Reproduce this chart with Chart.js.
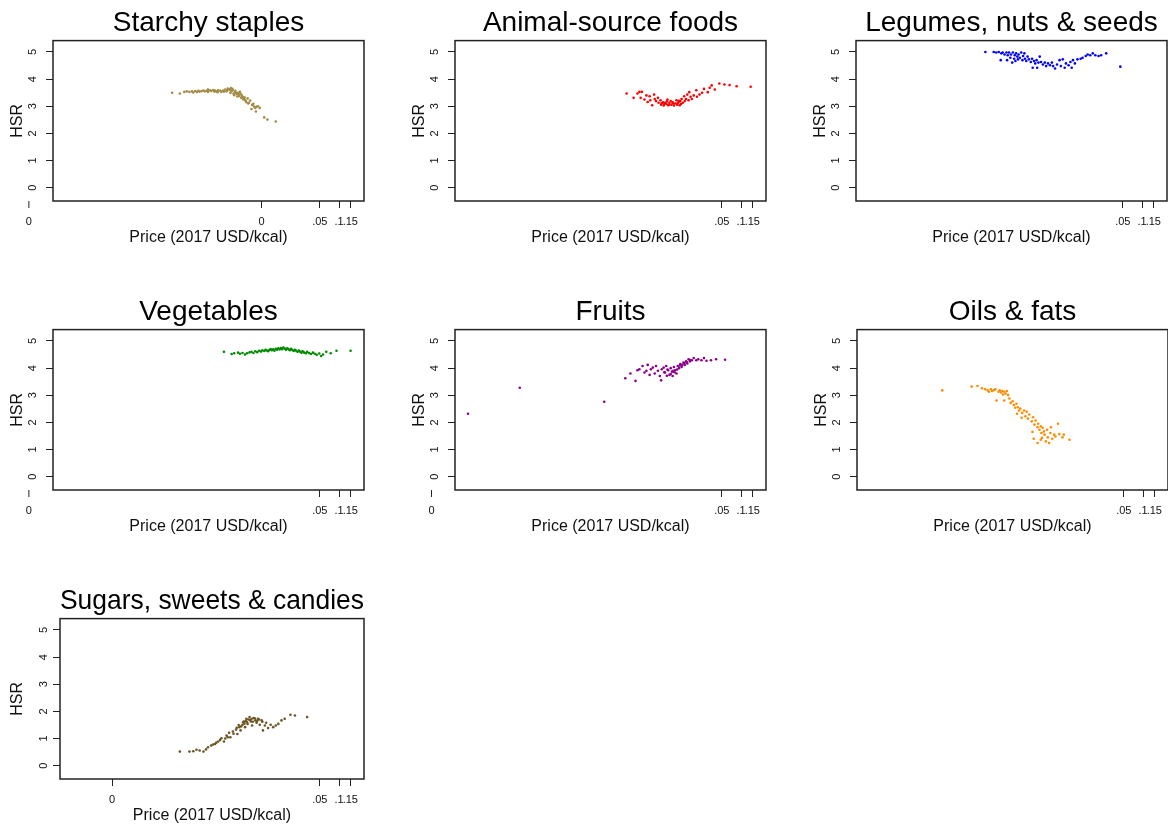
<!DOCTYPE html>
<html>
<head>
<meta charset="utf-8">
<script src="https://cdn.jsdelivr.net/npm/chart.js@4.4.1/dist/chart.umd.min.js"></script>
<style>
  html, body { margin: 0; padding: 0; background: #fff; overflow: hidden; }
  #wrap { position: relative; width: 1168px; height: 827px; overflow: hidden; }
  #wrap canvas { position: absolute; }
</style>
</head>
<body>
<div id="wrap"></div>
<script>
// x = log10 of price (2017 USD/kcal), y = HSR
const starchy = [[-3.61,3.50],[-3.49,3.47],[-3.42,3.53],[-3.38,3.55],[-3.34,3.53],[-3.30,3.55],[-3.28,3.51],[-3.25,3.56],[-3.22,3.53],[-3.20,3.57],[-3.18,3.54],[-3.15,3.56],[-3.12,3.58],[-3.10,3.55],[-3.07,3.57],[-3.05,3.62],[-3.05,3.53],[-3.02,3.59],[-3.00,3.56],[-2.97,3.60],[-2.95,3.54],[-2.94,3.58],[-2.92,3.55],[-2.90,3.52],[-2.89,3.59],[-2.86,3.57],[-2.84,3.53],[-2.81,3.58],[-2.80,3.54],[-2.78,3.62],[-2.76,3.55],[-2.75,3.58],[-2.74,3.65],[-2.72,3.63],[-2.71,3.60],[-2.70,3.49],[-2.69,3.67],[-2.68,3.55],[-2.67,3.64],[-2.66,3.61],[-2.65,3.46],[-2.64,3.41],[-2.63,3.52],[-2.62,3.57],[-2.61,3.49],[-2.60,3.45],[-2.59,3.36],[-2.58,3.50],[-2.57,3.43],[-2.56,3.38],[-2.55,3.53],[-2.54,3.46],[-2.53,3.31],[-2.52,3.40],[-2.51,3.35],[-2.50,3.25],[-2.49,3.28],[-2.48,3.33],[-2.47,3.24],[-2.46,3.19],[-2.45,3.15],[-2.43,3.29],[-2.42,3.10],[-2.41,3.13],[-2.39,3.21],[-2.37,2.90],[-2.36,3.05],[-2.34,3.09],[-2.33,2.99],[-2.31,2.94],[-2.30,2.81],[-2.29,2.98],[-2.27,3.00],[-2.24,2.94],[-2.17,2.59],[-2.12,2.51],[-1.99,2.44]];
const animal = [[-2.79,3.47],[-2.68,3.31],[-2.62,3.47],[-2.59,3.53],[-2.55,3.53],[-2.57,3.31],[-2.51,3.25],[-2.48,3.40],[-2.46,3.16],[-2.43,3.37],[-2.42,3.22],[-2.39,3.04],[-2.36,3.43],[-2.35,3.27],[-2.33,3.19],[-2.30,3.31],[-2.29,3.13],[-2.26,3.22],[-2.25,3.06],[-2.24,3.12],[-2.22,3.15],[-2.21,3.03],[-2.20,3.08],[-2.19,3.13],[-2.17,3.09],[-2.16,3.18],[-2.15,3.25],[-2.14,3.04],[-2.13,3.05],[-2.12,3.13],[-2.10,3.19],[-2.09,3.06],[-2.07,3.15],[-2.06,3.10],[-2.05,3.03],[-2.03,3.10],[-2.01,3.22],[-2.00,3.06],[-1.99,3.12],[-1.98,3.15],[-1.97,3.20],[-1.96,3.04],[-1.95,3.19],[-1.94,3.08],[-1.93,3.27],[-1.91,3.13],[-1.89,3.37],[-1.88,3.19],[-1.86,3.27],[-1.84,3.43],[-1.82,3.22],[-1.81,3.52],[-1.79,3.35],[-1.77,3.27],[-1.74,3.40],[-1.70,3.59],[-1.69,3.35],[-1.65,3.43],[-1.61,3.50],[-1.58,3.64],[-1.52,3.52],[-1.49,3.68],[-1.46,3.77],[-1.41,3.62],[-1.34,3.84],[-1.26,3.80],[-1.18,3.78],[-1.07,3.74],[-0.85,3.72]];
const legumes = [[-3.45,5.00],[-3.32,5.00],[-3.28,4.98],[-3.24,5.00],[-3.21,4.70],[-3.20,4.95],[-3.18,4.98],[-3.15,4.91],[-3.12,4.98],[-3.11,4.70],[-3.10,4.88],[-3.08,4.98],[-3.06,4.79],[-3.05,4.91],[-3.03,4.61],[-3.02,4.98],[-3.00,4.75],[-2.99,4.88],[-2.98,4.67],[-2.97,4.95],[-2.95,4.83],[-2.94,4.73],[-2.93,4.91],[-2.91,4.79],[-2.89,4.98],[-2.87,4.70],[-2.86,4.85],[-2.84,4.95],[-2.83,4.75],[-2.81,4.67],[-2.79,4.83],[-2.77,4.73],[-2.74,4.63],[-2.72,4.75],[-2.71,4.42],[-2.69,4.67],[-2.67,4.58],[-2.65,4.70],[-2.64,4.42],[-2.62,4.61],[-2.60,4.83],[-2.58,4.63],[-2.55,4.54],[-2.52,4.61],[-2.50,4.48],[-2.47,4.58],[-2.44,4.51],[-2.41,4.61],[-2.39,4.48],[-2.36,4.39],[-2.33,4.54],[-2.29,4.70],[-2.27,4.48],[-2.24,4.73],[-2.21,4.42],[-2.19,4.58],[-2.15,4.51],[-2.12,4.63],[-2.10,4.42],[-2.08,4.70],[-2.05,4.58],[-2.01,4.73],[-1.96,4.75],[-1.93,4.79],[-1.88,4.85],[-1.85,4.91],[-1.81,4.88],[-1.77,4.95],[-1.73,4.88],[-1.68,4.85],[-1.64,4.88],[-1.56,4.95],[-1.34,4.46]];
const vegetables = [[-2.80,4.60],[-2.68,4.52],[-2.64,4.55],[-2.58,4.57],[-2.55,4.53],[-2.51,4.56],[-2.47,4.50],[-2.44,4.55],[-2.40,4.58],[-2.37,4.60],[-2.34,4.56],[-2.31,4.62],[-2.28,4.59],[-2.25,4.64],[-2.22,4.61],[-2.20,4.66],[-2.17,4.63],[-2.15,4.68],[-2.13,4.65],[-2.11,4.62],[-2.09,4.67],[-2.07,4.70],[-2.05,4.66],[-2.03,4.69],[-2.01,4.64],[-1.99,4.71],[-1.97,4.68],[-1.95,4.73],[-1.93,4.69],[-1.91,4.74],[-1.89,4.70],[-1.87,4.76],[-1.85,4.72],[-1.83,4.68],[-1.81,4.73],[-1.79,4.70],[-1.77,4.66],[-1.75,4.71],[-1.73,4.67],[-1.71,4.63],[-1.69,4.68],[-1.67,4.64],[-1.65,4.60],[-1.63,4.65],[-1.61,4.61],[-1.59,4.57],[-1.57,4.62],[-1.55,4.58],[-1.52,4.55],[-1.50,4.60],[-1.47,4.56],[-1.44,4.52],[-1.41,4.57],[-1.38,4.53],[-1.35,4.49],[-1.31,4.54],[-1.28,4.45],[-1.25,4.50],[-1.20,4.60],[-1.13,4.55],[-1.04,4.64],[-0.82,4.64]];
const fruits = [[-5.27,2.32],[-4.46,3.28],[-3.14,2.76],[-2.81,3.63],[-2.73,3.80],[-2.65,3.53],[-2.62,3.92],[-2.59,3.96],[-2.54,4.08],[-2.51,3.84],[-2.48,3.90],[-2.46,4.12],[-2.43,3.75],[-2.41,3.96],[-2.38,4.02],[-2.35,3.80],[-2.33,4.08],[-2.30,3.90],[-2.27,3.71],[-2.25,3.55],[-2.24,3.96],[-2.21,4.02],[-2.20,3.85],[-2.19,3.84],[-2.17,4.08],[-2.16,3.72],[-2.15,3.95],[-2.14,3.92],[-2.12,3.75],[-2.10,4.00],[-2.10,3.78],[-2.08,3.87],[-2.07,3.71],[-2.06,3.90],[-2.05,4.04],[-2.04,3.85],[-2.03,3.92],[-2.01,3.80],[-2.00,3.95],[-1.99,4.08],[-1.97,4.00],[-1.96,4.10],[-1.95,4.15],[-1.93,4.04],[-1.92,4.12],[-1.90,4.21],[-1.89,4.18],[-1.88,4.12],[-1.86,4.25],[-1.85,4.22],[-1.84,4.17],[-1.82,4.33],[-1.80,4.25],[-1.80,4.30],[-1.77,4.29],[-1.74,4.37],[-1.70,4.29],[-1.67,4.33],[-1.62,4.29],[-1.58,4.37],[-1.54,4.27],[-1.47,4.29],[-1.39,4.33],[-1.25,4.31]];
const oils = [[-4.14,3.18],[-3.68,3.32],[-3.59,3.34],[-3.52,3.26],[-3.47,3.22],[-3.43,3.18],[-3.41,3.13],[-3.38,3.22],[-3.36,3.16],[-3.33,3.19],[-3.31,3.22],[-3.29,2.81],[-3.26,3.13],[-3.24,3.18],[-3.22,3.10],[-3.20,3.16],[-3.19,3.03],[-3.17,3.13],[-3.17,2.81],[-3.15,3.06],[-3.13,3.16],[-3.11,3.01],[-3.09,2.88],[-3.07,2.72],[-3.04,2.78],[-3.02,2.64],[-3.00,2.54],[-2.98,2.69],[-2.97,2.32],[-2.96,2.56],[-2.94,2.44],[-2.92,2.51],[-2.90,2.17],[-2.89,2.35],[-2.86,2.44],[-2.84,2.23],[-2.82,2.39],[-2.80,2.14],[-2.78,2.29],[-2.74,2.04],[-2.73,1.65],[-2.72,2.19],[-2.71,1.40],[-2.70,1.92],[-2.68,2.07],[-2.65,1.82],[-2.65,1.24],[-2.64,1.95],[-2.62,1.73],[-2.60,1.86],[-2.60,1.36],[-2.59,1.61],[-2.58,1.43],[-2.57,1.80],[-2.55,1.67],[-2.54,1.55],[-2.52,1.30],[-2.50,1.73],[-2.49,1.45],[-2.47,1.24],[-2.45,1.61],[-2.44,1.82],[-2.42,1.40],[-2.39,1.55],[-2.37,1.48],[-2.33,1.95],[-2.31,1.57],[-2.26,1.45],[-2.24,1.55],[-2.15,1.36]];
const sugars = [[-3.49,0.52],[-3.34,0.52],[-3.28,0.53],[-3.23,0.59],[-3.18,0.56],[-3.12,0.52],[-3.08,0.60],[-3.05,0.68],[-3.00,0.74],[-2.97,0.78],[-2.94,0.80],[-2.92,0.85],[-2.89,0.89],[-2.86,0.95],[-2.84,1.01],[-2.80,0.89],[-2.78,1.00],[-2.76,1.11],[-2.74,1.05],[-2.72,1.21],[-2.70,1.05],[-2.66,1.26],[-2.65,1.18],[-2.61,1.33],[-2.60,1.40],[-2.59,1.17],[-2.57,1.50],[-2.56,1.42],[-2.54,1.30],[-2.53,1.45],[-2.51,1.51],[-2.50,1.60],[-2.49,1.63],[-2.48,1.55],[-2.47,1.42],[-2.46,1.65],[-2.45,1.73],[-2.44,1.60],[-2.43,1.54],[-2.42,1.70],[-2.40,1.79],[-2.39,1.68],[-2.38,1.63],[-2.37,1.72],[-2.36,1.48],[-2.35,1.62],[-2.34,1.76],[-2.32,1.75],[-2.31,1.67],[-2.29,1.58],[-2.28,1.65],[-2.27,1.73],[-2.25,1.70],[-2.24,1.51],[-2.21,1.67],[-2.20,1.62],[-2.19,1.30],[-2.16,1.48],[-2.14,1.58],[-2.11,1.39],[-2.07,1.51],[-2.03,1.42],[-1.99,1.48],[-1.95,1.54],[-1.90,1.67],[-1.85,1.73],[-1.76,1.88],[-1.69,1.85],[-1.50,1.79]];

const panelTitles = ['Starchy staples', 'Animal-source foods', 'Legumes, nuts & seeds', 'Vegetables', 'Fruits', 'Oils & fats', 'Sugars, sweets & candies'];
const panelData = [starchy, animal, legumes, vegetables, fruits, oils, sugars];
const panelColors = ['#a38b45', '#ff0000', '#0000ff', '#008b00', '#8b008b', '#ff8c00', '#6b5523'];

// price ticks (log10 of .05, .1, .15) plus the ones that print as "0"
const priceTicks = [-1.301, -1, -0.824];
const priceLabels = ['.05', '.1', '.15'];
const zeroTicks = [[-5.85, -2.21], [], [], [-5.85], [-5.84], [], [-4.55]];
const hsrTicks = [0, 1, 2, 3, 4, 5];

// where each small plot sits on the page
const cells = [
  { left: 0,   top: 0,   axisW: 53, pad: 10, xMin: -5.473 },
  { left: 402, top: 0,   axisW: 53, pad: 10, xMin: -5.473 },
  { left: 803, top: 0,   axisW: 53, pad: 10, xMin: -5.473 },
  { left: 0,   top: 289, axisW: 53, pad: 10, xMin: -5.473 },
  { left: 402, top: 289, axisW: 53, pad: 10, xMin: -5.473 },
  { left: 804, top: 289, axisW: 53, pad: 10, xMin: -5.473 },
  { left: 0,   top: 578, axisW: 60, pad: 6,  xMin: -5.364 },
];

const FONT = '"Liberation Sans", Arial, Helvetica, sans-serif';
Chart.defaults.font.family = FONT;
Chart.defaults.color = '#111';

const wrap = document.getElementById('wrap');

panelTitles.forEach((title, i) => {
  const cell = cells[i];
  const canvas = document.createElement('canvas');
  canvas.width = 400;
  canvas.height = 252;
  canvas.style.left = cell.left + 'px';
  canvas.style.top = cell.top + 'px';
  wrap.appendChild(canvas);

  const xMax = -0.61;
  const allTicks = priceTicks.concat(zeroTicks[i]);
  const inside = allTicks.filter((v) => v >= cell.xMin && v <= xMax);
  const outside = allTicks.filter((v) => v < cell.xMin);

  // box round the plotting area, and the "0" ticks that sit left of it
  const framePlugin = {
    id: 'frame' + i,
    afterDraw(chart) {
      const { ctx, chartArea: a } = chart;
      const xs = chart.scales.x;
      ctx.save();
      ctx.strokeStyle = '#222';
      ctx.lineWidth = 1.5;
      ctx.strokeRect(a.left, a.top, a.right - a.left, a.bottom - a.top);
      ctx.lineWidth = 1;
      ctx.fillStyle = '#111';
      ctx.font = '11px ' + FONT;
      ctx.textAlign = 'center';
      ctx.textBaseline = 'middle';
      outside.forEach((v) => {
        const px = xs.getPixelForValue(v);
        ctx.beginPath();
        ctx.moveTo(px, a.bottom);
        ctx.lineTo(px, a.bottom + 7);
        ctx.stroke();
        ctx.fillText('0', px, a.bottom + 14 + 6.6);
      });
      ctx.restore();
    },
  };

  new Chart(canvas, {
    type: 'scatter',
    data: {
      datasets: [{
        data: panelData[i].map((p) => ({ x: p[0], y: p[1] })),
        backgroundColor: panelColors[i],
        borderWidth: 0,
        pointRadius: 1.3,
      }],
    },
    options: {
      responsive: false,
      animation: false,
      devicePixelRatio: 1,
      layout: { padding: { left: 0, right: 36, top: 0, bottom: 0 } },
      plugins: {
        legend: { display: false },
        tooltip: { enabled: false },
        title: {
          display: true,
          text: title,
          fullSize: false,
          color: '#000',
          font: { size: 28, weight: 'normal', lineHeight: 1.2 },
          padding: { top: 6, bottom: 1 },
        },
      },
      scales: {
        x: {
          type: 'linear',
          min: cell.xMin,
          max: xMax,
          afterBuildTicks: (s) => { s.ticks = inside.map((v) => ({ value: v })); },
          afterFit: (s) => { s.height = 51; },
          grid: { drawOnChartArea: false, tickLength: 7, color: '#222' },
          border: { display: false },
          ticks: {
            autoSkip: false,
            maxRotation: 0,
            padding: 7,
            color: '#111',
            font: { size: 11 },
            callback: (v) => {
              const k = priceTicks.indexOf(v);
              return k >= 0 ? priceLabels[k] : '0';
            },
          },
          title: {
            display: true,
            text: 'Price (2017 USD/kcal)',
            color: '#111',
            font: { size: 16 },
            padding: { top: 0, bottom: 5 },
          },
        },
        y: {
          min: -0.49,
          max: 5.42,
          afterBuildTicks: (s) => { s.ticks = hsrTicks.map((v) => ({ value: v })); },
          afterFit: (s) => { s.width = cell.axisW; },
          grid: { drawOnChartArea: false, tickLength: 7, color: '#222' },
          border: { display: false },
          ticks: {
            minRotation: 90,
            maxRotation: 90,
            crossAlign: 'center',
            padding: cell.pad,
            color: '#111',
            font: { size: 11 },
          },
          title: {
            display: true,
            text: 'HSR',
            color: '#111',
            font: { size: 16 },
            padding: { top: 8, bottom: 0 },
          },
        },
      },
    },
    plugins: [framePlugin],
  });
});
</script>
</body>
</html>
